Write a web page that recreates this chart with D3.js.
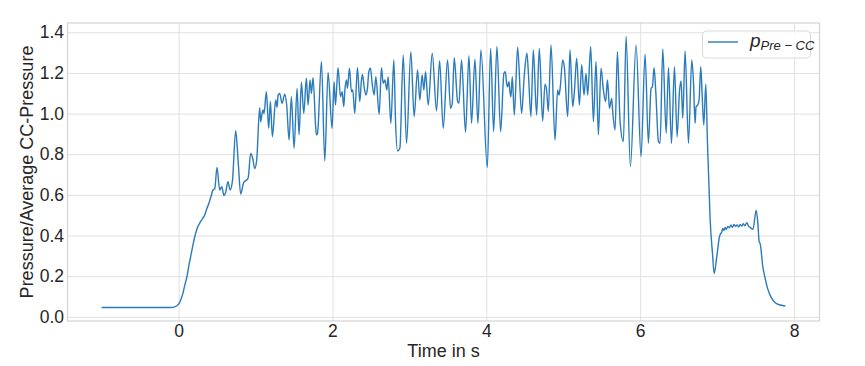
<!DOCTYPE html>
<html>
<head>
<meta charset="utf-8">
<script src="https://cdn.jsdelivr.net/npm/d3@7"></script>
<style>
  html, body { margin: 0; padding: 0; background: #ffffff; }
  svg { display: block; }
  text { font-family: "Liberation Sans", Arial, sans-serif; fill: #262626; }
</style>
</head>
<body>
<svg id="chart" width="865" height="366"></svg>
<script>
// ---- data ----
const time = [
  -1.0, -0.5, -0.1, -0.05, 0.0, 0.03, 0.056, 0.08, 0.108, 0.135, 0.165, 0.19, 0.221, 0.245, 0.273, 0.305, 0.338, 0.365, 0.395, 0.42,
  0.447, 0.47, 0.499, 0.534, 0.56, 0.59, 0.61, 0.642, 0.67, 0.70, 0.742, 0.775, 0.807, 0.846, 0.89, 0.905, 0.937, 0.963, 0.989, 1.015,
  1.054, 1.067, 1.085, 1.098, 1.110, 1.141, 1.171, 1.193, 1.219, 1.262, 1.28, 1.293, 1.314, 1.345, 1.379, 1.405, 1.436, 1.466, 1.501, 1.540,
  1.566, 1.596, 1.627, 1.661, 1.683, 1.709, 1.726, 1.748, 1.78, 1.792, 1.805, 1.857, 1.900, 1.943, 1.995, 2.021, 2.039, 2.073, 2.104, 2.126,
  2.147, 2.160, 2.182, 2.195, 2.221, 2.247, 2.264, 2.290, 2.325, 2.355, 2.377, 2.390, 2.412, 2.434, 2.455, 2.473, 2.494, 2.516, 2.542, 2.564,
  2.607, 2.637, 2.659, 2.681, 2.707, 2.724, 2.759, 2.798, 2.820, 2.846, 2.876, 2.920, 2.963, 3.019, 3.062, 3.106, 3.136, 3.166, 3.188, 3.210,
  3.245, 3.297, 3.353, 3.393, 3.440, 3.496, 3.535, 3.557, 3.583, 3.626, 3.644, 3.678, 3.730, 3.774, 3.808, 3.852, 3.891, 3.930, 4.013, 4.056,
  4.095, 4.138, 4.186, 4.229, 4.247, 4.264, 4.277, 4.294, 4.307, 4.320, 4.338, 4.364, 4.407, 4.459, 4.494, 4.528, 4.546, 4.580, 4.611, 4.654,
  4.689, 4.732, 4.763, 4.784, 4.806, 4.841, 4.893, 4.927, 4.945, 4.962, 4.993, 5.014, 5.058, 5.088, 5.123, 5.145, 5.175, 5.210, 5.240, 5.270,
  5.296, 5.318, 5.357, 5.392, 5.426, 5.457, 5.491, 5.522, 5.552, 5.574, 5.587, 5.600, 5.630, 5.643, 5.674, 5.704, 5.739, 5.782, 5.817, 5.873,
  5.947, 6.011, 6.064, 6.107, 6.142, 6.159, 6.181, 6.203, 6.238, 6.259, 6.294, 6.338, 6.368, 6.407, 6.446, 6.480, 6.511, 6.532, 6.554, 6.584,
  6.628, 6.671, 6.693, 6.714, 6.727, 6.749, 6.766, 6.788, 6.806, 6.827, 6.853, 6.875, 6.910, 6.940, 6.962, 6.996, 7.031, 7.062, 7.075, 7.09,
  7.105, 7.12, 7.14, 7.16, 7.18, 7.20, 7.22, 7.24, 7.26, 7.28, 7.30, 7.32, 7.34, 7.36, 7.387, 7.41, 7.43, 7.466, 7.508, 7.530,
  7.547, 7.56, 7.595, 7.625, 7.656, 7.700, 7.757, 7.822, 7.887
];
const pressure = [
  0.046, 0.046, 0.046, 0.049, 0.062, 0.085, 0.115, 0.155, 0.197, 0.255, 0.312, 0.36, 0.41, 0.44, 0.46, 0.48, 0.50, 0.53, 0.56, 0.59,
  0.624, 0.63, 0.735, 0.624, 0.64, 0.596, 0.61, 0.665, 0.624, 0.67, 0.916, 0.76, 0.604, 0.66, 0.675, 0.685, 0.804, 0.78, 0.73, 0.77,
  1.029, 0.960, 1.001, 1.018, 1.0, 1.108, 0.927, 1.06, 0.886, 1.067, 1.03, 1.091, 1.099, 1.050, 1.095, 1.042, 0.870, 1.083, 0.829, 1.124,
  0.895, 1.154, 1.001, 1.174, 1.042, 1.165, 1.099, 1.177, 0.944, 0.895, 0.90, 1.256, 0.767, 1.202, 0.927, 1.157, 1.042, 1.226, 1.083, 1.108,
  1.034, 1.108, 1.165, 1.124, 1.223, 1.108, 1.116, 1.001, 1.226, 1.059, 1.165, 1.193, 1.132, 1.091, 1.124, 1.206, 1.223, 1.149, 1.091, 1.182,
  0.996, 1.226, 1.149, 1.165, 1.116, 1.182, 0.952, 1.264, 0.960, 0.816, 0.829, 1.289, 0.854, 1.305, 0.985, 1.215, 1.067, 1.190, 1.116, 1.206,
  1.042, 1.297, 1.013, 1.26, 0.927, 1.264, 1.026, 1.050, 1.275, 1.062, 1.050, 1.264, 0.908, 1.285, 0.952, 1.267, 0.952, 1.313, 0.734, 1.321,
  0.911, 1.330, 0.911, 1.198, 1.206, 1.149, 1.132, 1.157, 1.108, 1.083, 1.182, 0.993, 1.326, 1.001, 1.190, 1.297, 1.206, 0.985, 1.313, 0.993,
  1.32, 0.963, 1.145, 1.116, 1.010, 1.338, 0.870, 1.116, 1.091, 1.132, 1.264, 1.231, 0.985, 1.313, 1.034, 1.108, 1.272, 1.042, 1.240, 1.091,
  1.198, 1.091, 1.330, 0.960, 1.256, 0.895, 1.223, 1.116, 1.059, 1.165, 1.108, 1.026, 1.075, 1.010, 0.919, 1.305, 0.960, 0.862, 1.379, 0.739,
  1.338, 0.788, 1.292, 0.854, 1.124, 1.132, 1.226, 1.108, 0.862, 0.854, 1.318, 0.903, 1.226, 0.854, 1.231, 0.886, 1.108, 1.160, 0.977, 1.308,
  0.854, 1.264, 1.157, 0.952, 1.034, 1.042, 1.067, 1.231, 1.091, 0.944, 1.144, 0.854, 0.476, 0.312, 0.213, 0.295, 0.394, 0.419, 0.435, 0.425,
  0.44, 0.43, 0.445, 0.438, 0.452, 0.44, 0.455, 0.445, 0.452, 0.442, 0.455, 0.446, 0.458, 0.448, 0.463, 0.445, 0.44, 0.430, 0.525, 0.46,
  0.369, 0.36, 0.246, 0.189, 0.14, 0.098, 0.069, 0.058, 0.053
];
const xTicks = [0, 2, 4, 6, 8];
const yTicks = [0.0, 0.2, 0.4, 0.6, 0.8, 1.0, 1.2, 1.4];
const xLabel = "Time in s";
const yLabel = "Pressure/Average CC-Pressure";
const seriesName = { main: "p", sub: "Pre \u2212 CC" };

// ---- layout ----
const W = 865, H = 366;
const plot = { left: 67.5, right: 819.5, top: 23, bottom: 321 };
const lineColor = "#2a7bbb";
const FONT = "'Liberation Sans', Arial, sans-serif";

const svg = d3.select("#chart");
const data = time.map((t, i) => ({ t, v: pressure[i] }));

function padded(ext) {
  const m = (ext[1] - ext[0]) * 0.05;
  return [ext[0] - m, ext[1] + m];
}
const x = d3.scaleLinear().domain(padded(d3.extent(time))).range([plot.left, plot.right]);
const y = d3.scaleLinear().domain(padded(d3.extent(pressure))).range([plot.bottom, plot.top]);

svg.append("rect").attr("x", 0).attr("y", 0).attr("width", W).attr("height", H).attr("fill", "#ffffff");

// grid
const gx = svg.append("g").attr("transform", `translate(0,${plot.bottom})`)
  .call(d3.axisBottom(x).tickValues(xTicks).tickSize(-(plot.bottom - plot.top)).tickFormat(""));
gx.select(".domain").remove();
gx.selectAll("line").attr("stroke", "#e0e0e0").attr("stroke-width", 1);

const gy = svg.append("g").attr("transform", `translate(${plot.left},0)`)
  .call(d3.axisLeft(y).tickValues(yTicks).tickSize(-(plot.right - plot.left)).tickFormat(""));
gy.select(".domain").remove();
gy.selectAll("line").attr("stroke", "#e0e0e0").attr("stroke-width", 1);

// frame
svg.append("rect")
  .attr("x", plot.left).attr("y", plot.top)
  .attr("width", plot.right - plot.left).attr("height", plot.bottom - plot.top)
  .attr("fill", "none").attr("stroke", "#d4d4d4").attr("stroke-width", 1.2);

// line
svg.append("path")
  .datum(data)
  .attr("fill", "none")
  .attr("stroke", lineColor)
  .attr("stroke-width", 1.4)
  .attr("stroke-linejoin", "round")
  .attr("d", d3.line().curve(d3.curveMonotoneX).x(d => x(d.t)).y(d => y(d.v)));

// tick labels
const ax = svg.append("g").attr("transform", `translate(0,${plot.bottom})`)
  .call(d3.axisBottom(x).tickValues(xTicks).tickSize(0).tickPadding(4).tickFormat(d3.format("d")));
ax.select(".domain").remove();
ax.selectAll("text").attr("font-size", 17.5).attr("fill", "#262626").attr("font-family", FONT);

const ay = svg.append("g").attr("transform", `translate(${plot.left},0)`)
  .call(d3.axisLeft(y).tickValues(yTicks).tickSize(0).tickPadding(3.5).tickFormat(d3.format(".1f")));
ay.select(".domain").remove();
ay.selectAll("text").attr("font-size", 17.5).attr("fill", "#262626").attr("font-family", FONT);

// axis labels
svg.append("text")
  .attr("x", (plot.left + plot.right) / 2).attr("y", 357)
  .attr("text-anchor", "middle").attr("font-size", 18)
  .text(xLabel);

svg.append("text")
  .attr("transform", `translate(33,${(plot.top + plot.bottom) / 2}) rotate(-90)`)
  .attr("text-anchor", "middle").attr("font-size", 18)
  .text(yLabel);

// legend
const lg = svg.append("g");
lg.append("rect")
  .attr("x", 702.5).attr("y", 31).attr("width", 108).attr("height", 27)
  .attr("rx", 4).attr("ry", 4)
  .attr("fill", "#ffffff").attr("fill-opacity", 0.85)
  .attr("stroke", "#d9d9d9").attr("stroke-width", 1);
lg.append("line")
  .attr("x1", 708).attr("x2", 738).attr("y1", 42).attr("y2", 42)
  .attr("stroke", lineColor).attr("stroke-width", 1.4);
const lt = lg.append("text").attr("x", 750).attr("y", 47).attr("font-style", "italic").attr("font-size", 19);
lt.append("tspan").text(seriesName.main);
lt.append("tspan").attr("dy", 3).attr("font-size", 13).text(seriesName.sub);
</script>
</body>
</html>
